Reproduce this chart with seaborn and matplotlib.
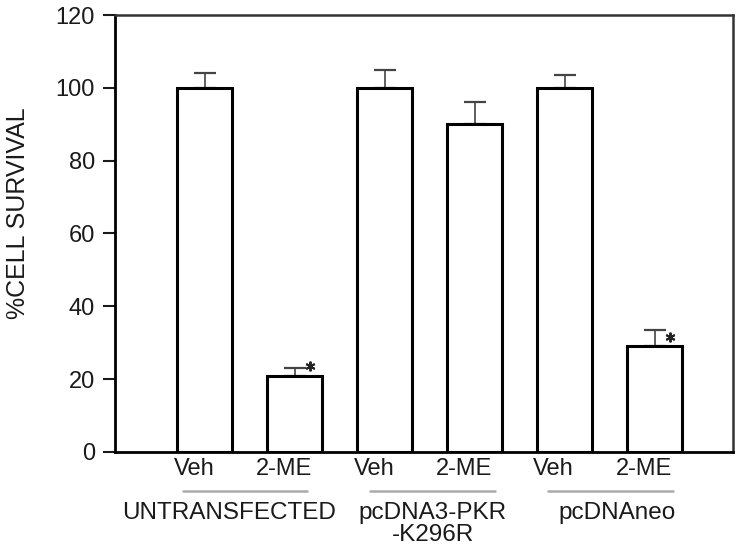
import matplotlib
matplotlib.use("Agg")
import matplotlib.pyplot as plt
import matplotlib.transforms as mtransforms
import seaborn as sns
import pandas as pd

# Data
conditions = ["U-Veh", "U-2ME", "P-Veh", "P-2ME", "N-Veh", "N-2ME"]
tick_labels = ["Veh", "2-ME", "Veh", "2-ME", "Veh", "2-ME"]
survival = [100, 21, 100, 90, 100, 29]
errors = [4, 2, 5, 6, 3.5, 4.5]
significant = [False, True, False, False, False, True]
groups = ["UNTRANSFECTED", "pcDNA3-PKR\n-K296R", "pcDNAneo"]

df = pd.DataFrame({"condition": conditions, "survival": survival})

sns.set_style("white")
plt.rcParams["font.family"] = ["Liberation Sans", "DejaVu Sans"]
plt.rcParams["text.color"] = "#1a1a1a"
plt.rcParams["xtick.color"] = "#1a1a1a"
plt.rcParams["ytick.color"] = "#1a1a1a"
plt.rcParams["axes.labelcolor"] = "#1a1a1a"

fig = plt.figure(figsize=(7.5, 5.52), dpi=100)
ax = fig.add_axes([0.1533, 0.1812, 0.824, 0.7916])

sns.barplot(data=df, x="condition", y="survival", color="white",
            edgecolor="black", linewidth=2.2, width=0.61, ax=ax, zorder=2)

# upper error bars only
xs = list(range(len(conditions)))
ax.errorbar(xs, survival, yerr=[[0] * len(errors), errors], fmt="none",
            ecolor="#444444", elinewidth=1.2, capsize=8, capthick=1.6, zorder=1)

for x, y, s in zip(xs, survival, significant):
    if s:
        ax.plot(x + 0.165, y + 2.5, marker=(6, 2, 0), markersize=7,
                markeredgewidth=1.4, color="#222222", clip_on=False)

ax.set_ylim(0, 120)
ax.set_xlim(-1.0, 5.87)
ax.set_yticks(range(0, 121, 20))
ax.set_xticks(xs)
ax.set_xticklabels(tick_labels)
ax.tick_params(axis="y", direction="out", length=8.5, width=1.5, labelsize=17,
               left=True, pad=6, colors="#1a1a1a")
ax.tick_params(axis="x", length=0, labelsize=17, pad=4)
# x labels sit a little left of the bar centres
shift = mtransforms.ScaledTranslation(-0.11, 0, fig.dpi_scale_trans)
for lab in ax.get_xticklabels():
    lab.set_transform(lab.get_transform() + shift)
ax.set_xlabel("")
ax.set_ylabel("%CELL SURVIVAL", fontsize=18)
ax.yaxis.set_label_coords(-0.1375, 0.547)

for side in ["left", "bottom"]:
    ax.spines[side].set_linewidth(2.0)
    ax.spines[side].set_color("black")
for side in ["top", "right"]:
    ax.spines[side].set_linewidth(1.8)
    ax.spines[side].set_color("#333333")

# group underlines and names
trans = mtransforms.blended_transform_factory(ax.transData, ax.transAxes)
spans = [(-0.24, 1.14), (1.84, 3.23), (3.81, 5.2)]
name_x = [0.27, 2.53, 4.58]
for (x0, x1), gx, name in zip(spans, name_x, groups):
    ax.plot([x0, x1], [-0.089, -0.089], color="#aaaaaa", lw=1.8,
            transform=trans, clip_on=False)
    ax.text(gx, -0.114, name, transform=trans, ha="center", va="top",
            fontsize=17.5, linespacing=1.0)

fig.savefig("out.png", dpi=100)
